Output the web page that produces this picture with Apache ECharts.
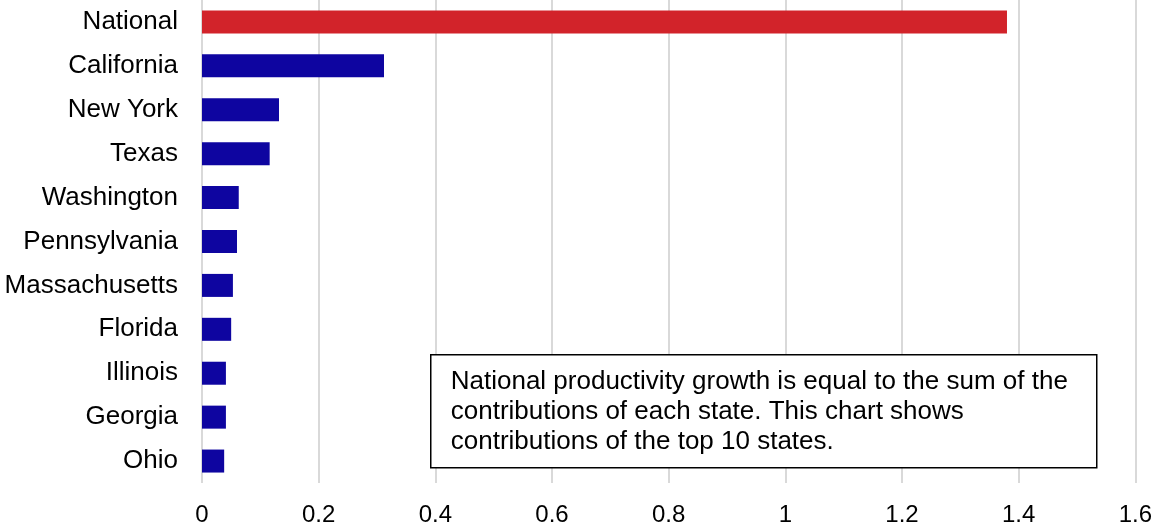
<!DOCTYPE html>
<html>
<head>
<meta charset="utf-8">
<script src="https://cdn.jsdelivr.net/npm/echarts@6/dist/echarts.min.js"></script>
<style>
  html, body { margin: 0; padding: 0; background: #ffffff; }
  #chart { width: 1155px; height: 529px; }
</style>
</head>
<body>
<div id="chart"></div>
<script>
// Contribution to national productivity growth, top 10 states
const categories = ['National', 'California', 'New York', 'Texas', 'Washington',
  'Pennsylvania', 'Massachusetts', 'Florida', 'Illinois', 'Georgia', 'Ohio'];
const contributions = [1.38, 0.312, 0.132, 0.116, 0.063, 0.060, 0.053, 0.050, 0.041, 0.041, 0.038];
const xTicks = { min: 0, max: 1.6, interval: 0.2 };
const noteLines = [
  'National productivity growth is equal to the sum of the',
  'contributions of each state. This chart shows',
  'contributions of the top 10 states.'
];

const RED = '#d2232a';
const BLUE = '#0e05a0';
const FONT = '"Liberation Sans", Arial, sans-serif';

const chart = echarts.init(document.getElementById('chart'));

const seriesData = contributions.map((v, i) => ({
  value: v,
  itemStyle: { color: categories[i] === 'National' ? RED : BLUE }
}));

chart.setOption({
  animation: false,
  backgroundColor: '#ffffff',
  grid: { left: 202, right: 17, top: 0, bottom: 46, containLabel: false },
  xAxis: {
    type: 'value',
    min: xTicks.min,
    max: xTicks.max,
    interval: xTicks.interval,
    axisLine: { show: false },
    axisTick: { show: false },
    splitLine: { show: true, lineStyle: { color: '#d9d9d9', width: 2 } },
    axisLabel: {
      color: '#000000',
      fontFamily: FONT,
      fontSize: 24,
      margin: 20,
      formatter: v => String(Math.round(v * 10) / 10)
    }
  },
  yAxis: {
    type: 'category',
    inverse: true,
    data: categories,
    axisLine: { show: false },
    axisTick: { show: false },
    axisLabel: {
      color: '#000000',
      fontFamily: FONT,
      fontSize: 26,
      margin: 24
    }
  },
  series: [{
    type: 'bar',
    data: seriesData,
    barWidth: 23
  }],
  graphic: [{
    type: 'group',
    left: 430,
    top: 354,
    z: 100,
    children: [{
      type: 'rect',
      z: 100,
      shape: { x: 0, y: 0, width: 666, height: 113 },
      style: { fill: '#ffffff', stroke: '#000000', lineWidth: 1.5 }
    }, {
      type: 'text',
      z: 101,
      x: 20,
      y: 12,
      style: {
        text: noteLines.join('\n'),
        font: '26px ' + FONT,
        lineHeight: 30,
        fill: '#000000'
      }
    }]
  }]
});
</script>
</body>
</html>
